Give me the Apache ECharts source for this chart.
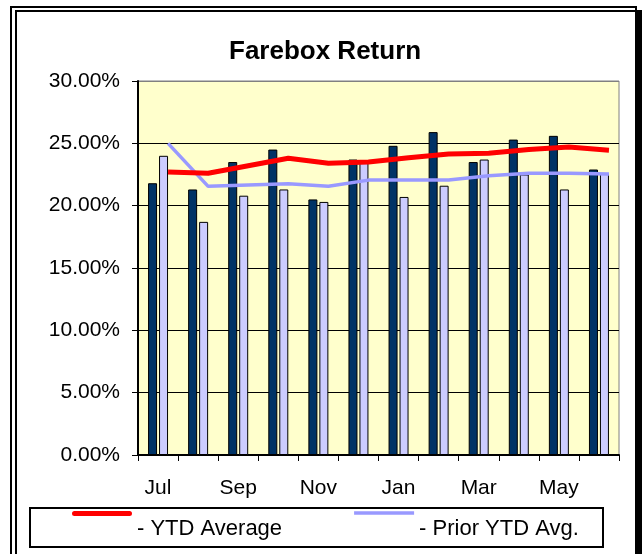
<!DOCTYPE html>
<html>
<head>
<meta charset="utf-8">
<script src="https://cdn.jsdelivr.net/npm/echarts@6/dist/echarts.min.js"></script>
<style>
  html, body { margin: 0; padding: 0; background: #fff; }
  #chart { width: 642px; height: 554px; }
</style>
</head>
<body>
<div id="chart"></div>
<script>
const months = ["Jul", "Aug", "Sep", "Oct", "Nov", "Dec", "Jan", "Feb", "Mar", "Apr", "May", "Jun"];
const currentYear = [21.8, 21.3, 23.5, 24.5, 20.5, 23.7, 24.8, 25.9, 23.5, 25.3, 25.6, 22.9];
const priorYear = [24.0, 18.7, 20.8, 21.3, 20.3, 23.6, 20.7, 21.6, 23.7, 22.5, 21.3, 22.6];
const ytdAverage = [22.7, 22.6, 23.2, 23.8, 23.4, 23.5, 23.85, 24.15, 24.2, 24.5, 24.7, 24.45];
const priorYtdAvg = [25.0, 21.55, 21.65, 21.75, 21.55, 22.05, 22.05, 22.05, 22.4, 22.6, 22.6, 22.55];
const yTicks = [0, 5, 10, 15, 20, 25, 30];

const font = "'Liberation Sans', Arial, sans-serif";

// lines sit a bit right of the category centre, like the original sheet
const toPoints = (arr) => arr.map((v, i) => [i, v]);

// legend swatch sits above its text: thin bar at top, tiny dot at the bottom sets the box
const redIcon = "path://M2.5,0L57.5,0A2.5,2.5,0,0,1,57.5,5L2.5,5A2.5,2.5,0,0,1,2.5,0Z M0,34.9L0.05,34.9L0.05,35L0,35Z";
const blueIcon = "path://M0,0L58,0L58,3.5L0,3.5Z M0,33.4L0.05,33.4L0.05,33.5L0,33.5Z";

const chart = echarts.init(document.getElementById("chart"));

chart.setOption({
  backgroundColor: "#fff",
  animation: false,
  textStyle: { fontFamily: font, color: "#000" },
  graphic: [
    {
      type: "rect",
      z: -10,
      shape: { x: 11, y: 7, width: 625, height: 560 },
      style: {
        fill: "#fff",
        stroke: "#000",
        lineWidth: 2,
        shadowColor: "#000",
        shadowOffsetX: 5,
        shadowOffsetY: 4,
        shadowBlur: 0,
      },
    },
    {
      type: "rect",
      z: 5,
      shape: { x: 30, y: 508, width: 573, height: 39 },
      style: { fill: "transparent", stroke: "#000", lineWidth: 2 },
    },
  ],
  title: {
    text: "Farebox Return",
    left: 229,
    top: 39,
    padding: 0,
    textStyle: { fontFamily: font, fontSize: 26, fontWeight: "bold", color: "#000" },
  },
  legend: {
    data: [
      { name: "- YTD Average", icon: redIcon },
      { name: "- Prior YTD Avg.", icon: blueIcon },
    ],
    left: 72,
    top: 511,
    padding: 0,
    itemWidth: 60,
    itemHeight: 35,
    itemGap: 72,
    textStyle: { fontFamily: font, fontSize: 22, color: "#000" },
  },
  grid: {
    left: 138,
    right: 23,
    top: 81,
    bottom: 99,
    show: true,
    backgroundColor: "#FFFFCC",
    borderColor: "#808080",
    borderWidth: 1,
  },
  xAxis: [
    {
      type: "category",
      data: months,
      axisLine: { lineStyle: { color: "#000", width: 2 } },
      axisTick: { show: true, interval: 0, length: 6, lineStyle: { color: "#000" } },
      axisLabel: { interval: 1, margin: 23, fontSize: 21, fontFamily: font, color: "#000" },
    },
    {
      type: "value",
      show: false,
      min: -0.75,
      max: 11.25,
    },
  ],
  yAxis: {
    type: "value",
    min: yTicks[0],
    max: yTicks[yTicks.length - 1],
    interval: 5,
    axisLine: { show: true, onZero: false, lineStyle: { color: "#000", width: 2 } },
    axisTick: { show: true, length: 6, lineStyle: { color: "#000" } },
    axisLabel: {
      margin: 18,
      fontSize: 21,
      fontFamily: font,
      color: "#000",
      formatter: (v) => v.toFixed(2) + "%",
    },
    splitLine: {
      show: true,
      lineStyle: { color: ["#000", "#000", "#000", "#000", "#000", "#000", "#808080"], width: 1 },
    },
  },
  series: [
    {
      name: "Current Year",
      type: "bar",
      data: currentYear,
      barWidth: 9,
      barGap: "22%",
      itemStyle: { color: "#003366", borderColor: "#000", borderWidth: 1 },
    },
    {
      name: "Prior Year",
      type: "bar",
      data: priorYear,
      barWidth: 9,
      itemStyle: { color: "#CCCCFF", borderColor: "#000", borderWidth: 1 },
    },
    {
      name: "- YTD Average",
      type: "line",
      xAxisIndex: 1,
      data: toPoints(ytdAverage),
      showSymbol: false,
      color: "#FF0000",
      lineStyle: { color: "#FF0000", width: 5 },
      z: 4,
    },
    {
      name: "- Prior YTD Avg.",
      type: "line",
      xAxisIndex: 1,
      data: toPoints(priorYtdAvg),
      showSymbol: false,
      color: "#9999FF",
      lineStyle: { color: "#9999FF", width: 3.5 },
      z: 3,
    },
  ],
});
</script>
</body>
</html>
